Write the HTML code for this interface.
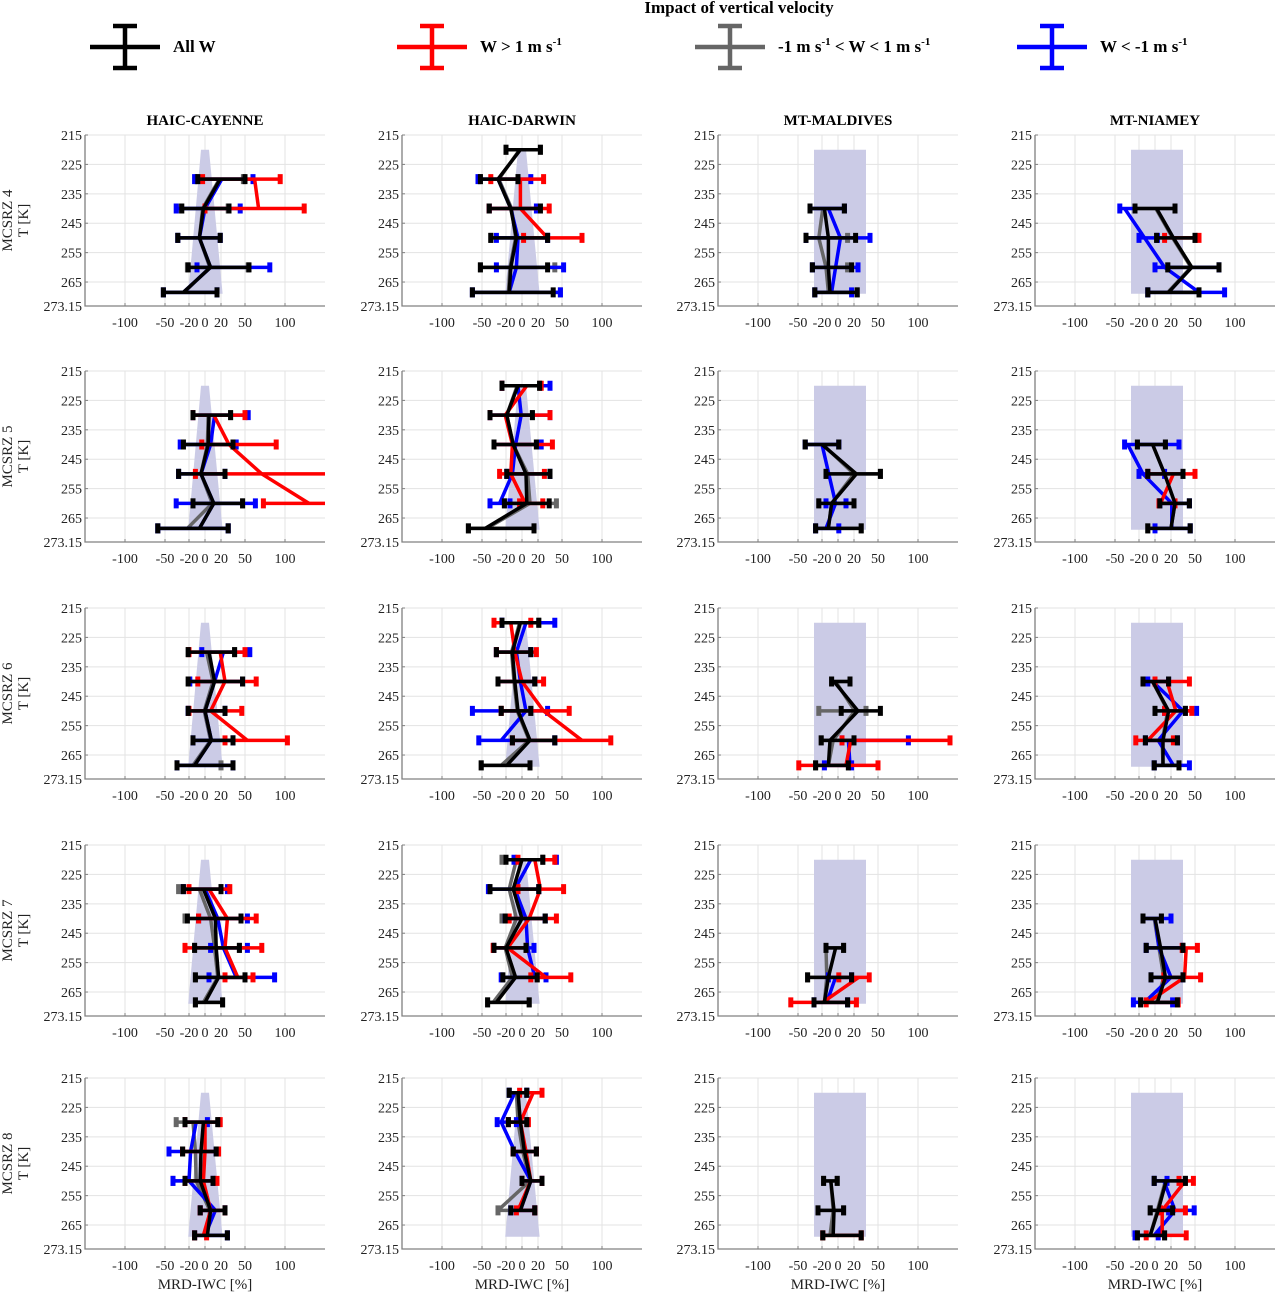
<!DOCTYPE html>
<html><head><meta charset="utf-8"><style>
html,body{margin:0;padding:0;background:#fff;}
svg{display:block;font-family:"Liberation Serif",serif;}
svg text{font-family:"Liberation Serif",serif;}
</style></head><body>
<svg id="chart" width="1277" height="1292" viewBox="0 0 1277 1292" xmlns="http://www.w3.org/2000/svg" font-family="Liberation Serif, serif">
<text x="739" y="13" text-anchor="middle" font-size="17" font-weight="bold">Impact of vertical velocity</text>
<g id="legend"></g>
<g id="panels"></g>
</svg>
<script>
const colNames = ["HAIC-CAYENNE","HAIC-DARWIN","MT-MALDIVES","MT-NIAMEY"];
const rowNames = ["MCSRZ 4","MCSRZ 5","MCSRZ 6","MCSRZ 7","MCSRZ 8"];
const xTicks = [-100,-50,-20,0,20,50,100];
const yTicks = [215,225,235,245,255,265,273.15];
const yTickLabels = ["215","225","235","245","255","265","273.15"];
const shadeTaper = [[220,-5,5],[269,-21,22]];
const shadeRect = [[220,-30,35],[269,-30,35]];
const r1c1_all=[[230,19,-9,50],[240,-2,-29,30],[250,-7,-34,19],[260,7,-21,55],[268.5,-27,-52,15]];
const r1c1_gray=[[230,18,-10,48],[240,-3,-30,29],[250,-7,-34,19],[260,6,-22,54],[268.5,-26,-52,15]];
const r1c1_blue=[[230,21,-13,60],[240,0,-36,44],[250,-7,-34,19],[260,7,-10,81],[268.5,-27,-52,15]];
const r1c1_red=[[230,62,-3,94],[240,67,0,124]];
const r1c2_all=[[220,-2,-20,23],[230,-30,-52,-5],[240,-14,-41,23],[250,-7,-39,32],[260,-14,-52,32],[268.5,-16,-62,39]];
const r1c2_gray=[[220,-3,-20,23],[230,-29,-52,-5],[240,-13,-41,23],[250,-8,-39,32],[260,-15,-52,41],[268.5,-17,-62,48]];
const r1c2_blue=[[230,-30,-55,11],[240,-14,-41,18],[250,-5,-32,32],[260,-7,-32,52],[268.5,-16,-62,48]];
const r1c2_red=[[230,-2,-39,27],[240,-2,-41,34],[250,32,2,75]];
const r1c3_all=[[240,-17,-35,8],[250,-12,-40,22],[260,-12,-32,17],[268.5,-10,-29,24]];
const r1c3_gray=[[240,-19,-35,8],[250,-24,-40,12],[260,-15,-32,12],[268.5,-12,-29,24]];
const r1c3_blue=[[240,-12,-35,8],[250,3,-40,40],[260,-3,-32,25],[268.5,-8,-29,17]];
const r1c3_red=[];
const r1c4_all=[[240,2,-25,25],[250,23,2,50],[260,46,16,80],[268.5,17,-9,55]];
const r1c4_gray=[[240,1,-25,25],[250,22,2,50],[260,45,16,80],[268.5,16,-9,55]];
const r1c4_blue=[[240,-38,-44,-25],[250,-13,-20,3],[260,12,0,80],[268.5,55,-9,87]];
const r1c4_red=[[250,30,12,55]];
const r2c1_all=[[230,5,-15,32],[240,4,-27,35],[250,-5,-33,25],[260,11,-15,47],[268.5,-7,-59,29]];
const r2c1_gray=[[230,4,-15,32],[240,3,-27,35],[250,-5,-33,25],[260,9,-15,47],[268.5,-22,-59,29]];
const r2c1_blue=[[230,12,-15,54],[240,7,-31,39],[250,-5,-33,25],[260,11,-36,63],[268.5,-7,-59,29]];
const r2c1_red=[[230,11,-15,50],[240,30,-4,89],[250,71,-12,200],[260,130,73,200]];
const r2c2_all=[[220,-5,-25,22],[230,-19,-40,13],[240,-11,-35,18],[250,5,-19,35],[260,6,-22,34],[268.5,-46,-67,15]];
const r2c2_gray=[[220,-6,-25,22],[230,-19,-40,13],[240,-11,-35,18],[250,7,-19,35],[260,10,-22,43],[268.5,-44,-67,15]];
const r2c2_blue=[[220,-5,-25,35],[230,-1,-40,35],[240,-8,-35,24],[250,-12,-19,35],[260,-28,-40,-15]];
const r2c2_red=[[220,6,-25,24],[230,-21,-40,35],[240,-12,-35,38],[250,-14,-28,28],[260,4,-3,26]];
const r2c3_all=[[240,-20,-41,1],[250,23,-15,53],[260,-8,-24,20],[268.5,-12,-28,29]];
const r2c3_gray=[[240,-19,-41,1],[250,20,-15,53],[260,-8,-24,20],[268.5,-12,-28,29]];
const r2c3_blue=[[240,-20,-41,1],[260,-3,-15,10],[268.5,-15,-28,1]];
const r2c3_red=[];
const r2c4_all=[[240,-3,-22,13],[250,12,-9,35],[260,25,6,43],[268.5,20,-9,44]];
const r2c4_gray=[[240,-3,-22,13],[250,12,-9,35],[260,25,6,43],[268.5,20,-9,44]];
const r2c4_blue=[[240,-34,-38,30],[250,-15,-20,12],[260,21,6,43],[268.5,21,0,44]];
const r2c4_red=[[250,23,-9,50],[260,7,5,25]];
const r3c1_all=[[230,5,-21,37],[240,12,-21,47],[250,0,-21,25],[260,8,-15,35],[268.5,-13,-35,35]];
const r3c1_gray=[[230,2,-21,37],[240,10,-21,47],[250,-1,-21,25],[260,7,-15,35],[268.5,-15,-35,20]];
const r3c1_blue=[[230,23,-4,56],[240,12,-19,47],[250,0,-21,25],[260,8,-15,35],[268.5,-13,-35,35]];
const r3c1_red=[[230,19,-20,50],[240,25,-9,64],[250,7,-20,46],[260,53,25,103]];
const r3c2_all=[[220,-2,-25,21],[230,-12,-32,11],[240,-9,-30,16],[250,-5,-26,11],[260,10,-12,41],[268.5,-19,-51,10]];
const r3c2_gray=[[220,-3,-25,21],[230,-13,-32,11],[240,-10,-30,16],[250,-6,-26,11],[260,9,-12,41],[268.5,-26,-51,10]];
const r3c2_blue=[[220,5,-25,41],[230,-7,-32,11],[240,-2,-30,16],[250,5,-62,32],[260,-26,-54,41]];
const r3c2_red=[[220,-14,-35,11],[230,-9,-32,18],[240,0,-30,27],[250,27,-26,59],[260,75,-12,111]];
const r3c3_all=[[240,-5,-8,15],[250,25,4,53],[260,-10,-21,20],[268.5,-12,-28,13]];
const r3c3_gray=[[240,-3,-8,15],[250,21,-24,35],[260,-6,-21,20],[268.5,-12,-28,13]];
const r3c3_blue=[[260,13,5,88],[268.5,15,-17,17]];
const r3c3_red=[[260,16,5,140],[268.5,10,-49,50]];
const r3c4_all=[[240,-3,-15,17],[250,17,0,38],[260,10,-12,28],[268.5,10,-1,30]];
const r3c4_gray=[[240,-3,-15,17],[250,16,0,38],[260,9,-12,28],[268.5,10,-1,30]];
const r3c4_blue=[[240,-3,-9,17],[250,35,12,52],[260,4,-12,28],[268.5,23,-1,43]];
const r3c4_red=[[240,15,0,43],[250,26,12,46],[260,-9,-24,23]];
const r4c1_all=[[230,-2,-27,20],[240,13,-22,45],[250,14,-13,43],[260,17,-12,50],[268.5,0,-12,22]];
const r4c1_gray=[[230,-7,-33,20],[240,7,-25,45],[250,12,-13,43],[260,16,-12,50],[268.5,-2,-12,22]];
const r4c1_blue=[[230,0,-27,28],[240,16,-8,53],[250,23,7,53],[260,39,5,87]];
const r4c1_red=[[230,5,-20,31],[240,28,-8,64],[250,25,-25,71],[260,41,25,60]];
const r4c2_all=[[220,0,-20,26],[230,-11,-40,21],[240,0,-21,29],[250,-20,-35,5],[260,-8,-24,19],[268.5,-32,-43,9]];
const r4c2_gray=[[220,-7,-25,26],[230,-16,-40,21],[240,-7,-25,29],[250,-21,-35,5],[260,-12,-24,19],[268.5,-36,-43,9]];
const r4c2_blue=[[220,11,-10,43],[230,-9,-42,21],[240,5,-21,29],[250,7,-35,15],[260,16,-26,30]];
const r4c2_red=[[220,16,-5,41],[230,23,-5,52],[240,9,-16,43],[250,-18,-36,5],[260,30,11,61]];
const r4c3_all=[[250,-3,-15,7],[260,-12,-38,17],[268.5,-17,-30,12]];
const r4c3_gray=[[250,-15,-15,7],[260,-14,-38,17],[268.5,-17,-30,12]];
const r4c3_blue=[[260,-3,-12,17],[268.5,-14,-30,12]];
const r4c3_red=[[260,26,1,39],[268.5,-19,-59,23]];
const r4c4_all=[[240,0,-15,8],[250,7,-11,35],[260,13,-5,35],[268.5,3,-18,28]];
const r4c4_gray=[[240,-1,-15,8],[250,5,-11,35],[260,11,-5,35],[268.5,2,-18,28]];
const r4c4_blue=[[240,0,-15,20],[250,5,-11,35],[260,20,-5,35],[268.5,-13,-27,22]];
const r4c4_red=[[250,39,34,53],[260,37,11,57],[268.5,-9,-11,29]];
const r5c1_all=[[230,-2,-25,16],[240,-5,-28,14],[250,-6,-25,10],[260,7,-6,25],[268.5,3,-13,28]];
const r5c1_gray=[[230,-15,-36,16],[240,-12,-28,14],[250,-11,-40,10],[260,6,-6,25],[268.5,2,-13,28]];
const r5c1_blue=[[230,-11,-25,3],[240,-18,-45,14],[250,-20,-40,10],[260,13,-6,25],[268.5,0,-13,28]];
const r5c1_red=[[230,0,-25,19],[240,0,-28,17],[250,-2,-25,15],[260,7,-6,25],[268.5,-2,-13,2]];
const r5c2_all=[[220,-5,-16,6],[230,-2,-17,6],[240,3,-11,18],[250,11,0,25],[260,-2,-14,16]];
const r5c2_gray=[[220,-7,-16,6],[230,-5,-17,6],[240,1,-11,18],[250,10,0,25],[260,-30,-30,16]];
const r5c2_blue=[[220,-9,-16,6],[230,-26,-31,-7],[240,-9,-11,18],[250,11,0,25],[260,-2,-14,16]];
const r5c2_red=[[220,14,-3,25],[230,-2,-17,8],[240,5,-11,18],[250,11,0,25],[260,-5,-7,16]];
const r5c3_all=[[250,-9,-18,-1],[260,-5,-25,7],[268.5,-6,-19,29]];
const r5c3_gray=[[250,-9,-18,-1],[260,-6,-25,7],[268.5,-10,-19,29]];
const r5c3_blue=[];
const r5c3_red=[[268.5,4,-19,29]];
const r5c4_all=[[250,14,-1,38],[260,4,-6,22],[268.5,-6,-22,12]];
const r5c4_gray=[[250,13,-1,38],[260,3,-6,22],[268.5,-6,-22,12]];
const r5c4_blue=[[250,11,-1,15],[260,25,17,49],[268.5,-1,-25,4]];
const r5c4_red=[[250,38,30,48],[260,9,7,38],[268.5,9,-11,39]];

const NS="http://www.w3.org/2000/svg";
const svg=document.getElementById('chart');
const panelsG=document.getElementById('panels');
const legendG=document.getElementById('legend');
const FF="Liberation Serif, serif";
function mk(tag,attrs,parent){const e=document.createElementNS(NS,tag);for(const k in attrs)e.setAttribute(k,attrs[k]);if(tag==='text')e.setAttribute('font-family',FF);parent.appendChild(e);return e;}

const colLeft=[85,402,718,1035];
const rowTop=[135,371,608,845,1078];
const W=240,H=171;
const xMin=-150,xMax=150,yMin=215,yMax=273.15;
const COLORS={gray:"#666666",blue:"#0000ff",red:"#ff0000",all:"#000000"};
const seriesData={
 all:[[r1c1_all,r1c2_all,r1c3_all,r1c4_all],[r2c1_all,r2c2_all,r2c3_all,r2c4_all],[r3c1_all,r3c2_all,r3c3_all,r3c4_all],[r4c1_all,r4c2_all,r4c3_all,r4c4_all],[r5c1_all,r5c2_all,r5c3_all,r5c4_all]],
 gray:[[r1c1_gray,r1c2_gray,r1c3_gray,r1c4_gray],[r2c1_gray,r2c2_gray,r2c3_gray,r2c4_gray],[r3c1_gray,r3c2_gray,r3c3_gray,r3c4_gray],[r4c1_gray,r4c2_gray,r4c3_gray,r4c4_gray],[r5c1_gray,r5c2_gray,r5c3_gray,r5c4_gray]],
 blue:[[r1c1_blue,r1c2_blue,r1c3_blue,r1c4_blue],[r2c1_blue,r2c2_blue,r2c3_blue,r2c4_blue],[r3c1_blue,r3c2_blue,r3c3_blue,r3c4_blue],[r4c1_blue,r4c2_blue,r4c3_blue,r4c4_blue],[r5c1_blue,r5c2_blue,r5c3_blue,r5c4_blue]],
 red:[[r1c1_red,r1c2_red,r1c3_red,r1c4_red],[r2c1_red,r2c2_red,r2c3_red,r2c4_red],[r3c1_red,r3c2_red,r3c3_red,r3c4_red],[r4c1_red,r4c2_red,r4c3_red,r4c4_red],[r5c1_red,r5c2_red,r5c3_red,r5c4_red]]
};
const defs=mk('defs',{},svg);

for(let r=0;r<5;r++){for(let c=0;c<4;c++){
 const L=colLeft[c],T=rowTop[r];
 const xs=v=>L+(v-xMin)/(xMax-xMin)*W;
 const ys=t=>T+(t-yMin)/(yMax-yMin)*H;
 const g=mk('g',{},panelsG);
 
 
 const cp=mk('clipPath',{id:'cp'+r+c},defs);
 mk('rect',{x:L,y:T-6,width:W,height:H+12},cp);
 xTicks.forEach(v=>{const l=mk('line',{x1:xs(v),x2:xs(v),y1:T,y2:T+H,stroke:"#e3e3e3","stroke-width":1},g);
  });
 yTicks.forEach(t=>{const l=mk('line',{x1:L,x2:L+W,y1:ys(t),y2:ys(t),stroke:"#e3e3e3","stroke-width":1},g);
  });
 const sh=c<2?shadeTaper:shadeRect;
 const pts=[[xs(sh[0][1]),ys(sh[0][0])],[xs(sh[0][2]),ys(sh[0][0])],[xs(sh[1][2]),ys(sh[1][0])],[xs(sh[1][1]),ys(sh[1][0])]];
 const poly=mk('polygon',{points:pts.map(p=>p.join(',')).join(' '),fill:"#cbcbe6"},g);
 
 
 const ax=mk('path',{d:`M${L},${T} V${T+H} H${L+W}`,fill:"none",stroke:"#808080","stroke-width":1.3},g);
 
 
 xTicks.forEach(v=>{mk('line',{x1:xs(v),x2:xs(v),y1:T+H,y2:T+H-3,stroke:"#808080"},g);
  const tx=mk('text',{x:xs(v),y:T+H+21,"text-anchor":"middle","font-size":14,fill:"#222"},g);tx.textContent=String(v);
  });
 yTicks.forEach((t,i)=>{mk('line',{x1:L,x2:L+3,y1:ys(t),y2:ys(t),stroke:"#808080"},g);
  const tx=mk('text',{x:L-3,y:ys(t)+5,"text-anchor":"end","font-size":14,fill:"#222"},g);tx.textContent=yTickLabels[i];
  });
 if(r===0){const tt=mk('text',{x:L+W/2,y:125,"text-anchor":"middle","font-size":15,"font-weight":"bold"},g);tt.textContent=colNames[c];
  }
 if(c===0){const cy=T+H/2;
  const t1=mk('text',{x:0,y:0,transform:`translate(12,${cy}) rotate(-90)`,"text-anchor":"middle","font-size":15,fill:"#222"},g);t1.textContent=rowNames[r];
  
  const t2=mk('text',{x:0,y:0,transform:`translate(28,${cy}) rotate(-90)`,"text-anchor":"middle","font-size":15,fill:"#222"},g);t2.textContent="T [K]";
  }
 if(r===4){const xt=mk('text',{x:xs(0),y:T+H+40,"text-anchor":"middle","font-size":15,fill:"#222"},g);xt.textContent="MRD-IWC [%]";
  }
 const sg=mk('g',{"clip-path":`url(#cp${r}${c})`},g);
 ["gray","blue","red","all"].forEach(key=>{
  const d=seriesData[key][r][c]; if(!d.length) return;
  const col=COLORS[key];
  const s=mk('g',{},sg);
  
  
  const line=mk('polyline',{points:d.map(p=>xs(p[1])+','+ys(p[0])).join(' '),fill:"none",stroke:col,"stroke-width":3.5,"stroke-linejoin":"round"},s);
  
  
  d.forEach(p=>{const y=ys(p[0]);
   const eb=mk('path',{d:`M${xs(p[2])},${y} H${xs(p[3])}`,fill:"none",stroke:col,"stroke-width":3.5},s);
   
   
   const caps=mk('path',{d:`M${xs(p[2])},${y-5} V${y+5} M${xs(p[3])},${y-5} V${y+5}`,fill:"none",stroke:col,"stroke-width":5},s);
   
   });
 });
}}

const legItems=[{k:"all",x:125,label:"All W"},{k:"red",x:432,label:"W > 1 m s",sup:"-1"},{k:"gray",x:730,label:"-1 m s",sup:"-1",mid:" < W < 1 m s",sup2:"-1"},{k:"blue",x:1052,label:"W < -1 m s",sup:"-1"}];
legItems.forEach(it=>{
 const g=mk('g',{},legendG);
 
 
 const col=COLORS[it.k];
 mk('path',{d:`M${it.x-35},47 H${it.x+35} M${it.x},26 V68 M${it.x-12},26 H${it.x+12} M${it.x-12},68 H${it.x+12}`,stroke:col,"stroke-width":4.5,fill:"none"},g);
 const t=mk('text',{x:it.x+48,y:52,"font-size":17,"font-weight":"bold"},g);
 let h=it.label;
 if(it.sup) h+=`<tspan dy="-7" font-size="11">${it.sup}</tspan>`;
 if(it.mid) h+=`<tspan dy="7">${it.mid}</tspan><tspan dy="-7" font-size="11">${it.sup2}</tspan>`;
 t.innerHTML=h;
});
</script>
</body></html>
